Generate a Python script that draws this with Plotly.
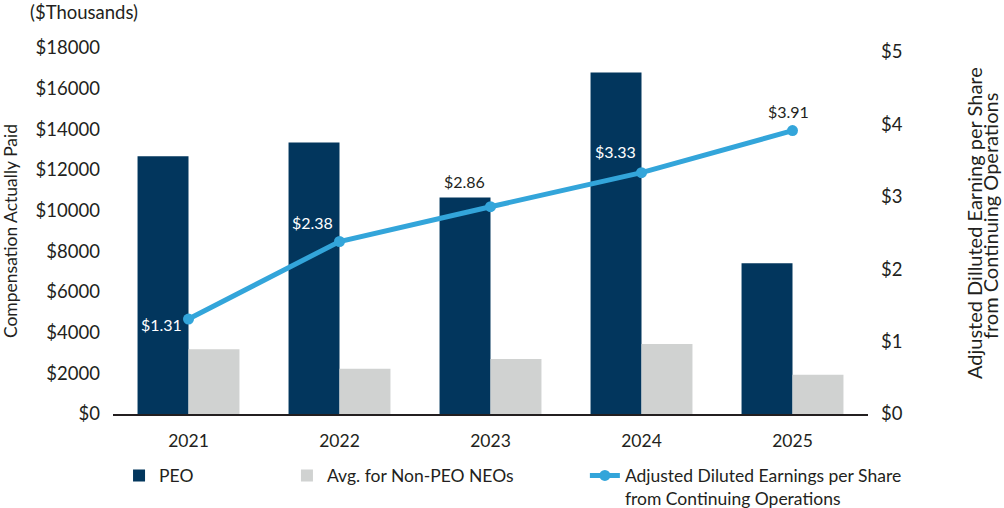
import plotly.graph_objects as go

years = ["2021", "2022", "2023", "2024", "2025"]
peo = [12680, 13350, 10650, 16800, 7410]
non_peo = [3190, 2220, 2710, 3440, 1930]
eps = [1.31, 2.38, 2.86, 3.33, 3.91]
eps_labels = ["$1.31", "$2.38", "$2.86", "$3.33", "$3.91"]
left_ticks = [0, 2000, 4000, 6000, 8000, 10000, 12000, 14000, 16000, 18000]
right_ticks = [0, 1, 2, 3, 4, 5]
right_title_lines = ["Adjusted Dilluted Earning per Share", "from Continuing Operations"]

NAVY = "#02365d"
GRAY = "#d0d2d1"
BLUE = "#33a5da"
TXT = "#231f20"
FONT = "Lato"

fig = go.Figure()
fig.add_trace(go.Bar(x=years, y=peo, name="PEO", marker_color=NAVY,
                     marker_line_width=0, legend="legend"))
fig.add_trace(go.Bar(x=years, y=non_peo, name="Avg. for Non-PEO NEOs",
                     marker_color=GRAY, marker_line_width=0, legend="legend2"))
fig.add_trace(go.Scatter(x=years, y=eps, yaxis="y2", mode="lines+markers",
                         name="Adjusted Diluted Earnings per Share<br>from Continuing Operations",
                         line=dict(color=BLUE, width=5),
                         marker=dict(color=BLUE, size=11), legend="legend3"))

# label offsets (px) and colours for the EPS labels
shifts = [(-27, -5), (-27, 19), (-26, 25), (-26, 21), (-4, 19)]
label_colors = ["white", "white", TXT, "white", TXT]
for i, (v, lab, (dx, dy), c) in enumerate(zip(eps, eps_labels, shifts, label_colors)):
    fig.add_annotation(x=i, y=v, xref="x", yref="y2", text=lab, showarrow=False,
                       xshift=dx, yshift=dy, font=dict(family=FONT, size=16, color=c))

fig.add_annotation(xref="paper", yref="paper", x=-0.1126, y=1.098,
                   xanchor="left", yanchor="middle", text="($Thousands)",
                   showarrow=False, font=dict(family=FONT, size=18.5, color=TXT))

# right axis title as two rotated lines
for txt, xp, yp in zip(right_title_lines, [1.1405, 1.1617], [0.522, 0.541]):
    fig.add_annotation(xref="paper", yref="paper", x=xp, y=yp, text=txt,
                       textangle=-90, showarrow=False, xanchor="center", yanchor="middle",
                       font=dict(family=FONT, size=20, color=TXT))

legend_common = dict(orientation="h", yanchor="top", y=-0.119, xanchor="left",
                     bgcolor="rgba(0,0,0,0)", font=dict(family=FONT, size=17.5, color=TXT))

fig.update_layout(
    width=1004, height=508,
    margin=dict(l=113, r=136, t=48, b=94, autoexpand=False),
    paper_bgcolor="white", plot_bgcolor="white",
    font=dict(family=FONT, size=17, color=TXT),
    barmode="group", bargap=0.325, bargroupgap=0,
    showlegend=True,
    legend=dict(**legend_common, x=0.008),
    legend2=dict(**legend_common, x=0.2304),
    legend3=dict(**legend_common, x=0.625, valign="top"),
    xaxis=dict(type="category", categoryorder="array", categoryarray=years,
               range=[-0.5, len(years) - 0.5], autorange=False,
               showline=True, linecolor="#231f20", linewidth=1.5,
               showgrid=False, ticks="", ticklabelstandoff=10,
               tickfont=dict(family=FONT, size=17.5, color=TXT)),
    yaxis=dict(range=[0, 18000], tickvals=left_ticks,
               ticktext=["$" + str(t) for t in left_ticks],
               showgrid=False, zeroline=False, showline=False,
               ticklabelstandoff=12,
               tickfont=dict(family=FONT, size=18.5, color=TXT),
               title=dict(text="Compensation Actually Paid", standoff=14,
                          font=dict(family=FONT, size=17.5, color=TXT))),
    yaxis2=dict(range=[0, 5.05], overlaying="y", side="right",
                tickvals=right_ticks, ticktext=["$" + str(t) for t in right_ticks],
                showgrid=False, zeroline=False, showline=False,
                ticklabelstandoff=12,
                tickfont=dict(family=FONT, size=18.5, color=TXT)),
)

fig.write_html("out.html", config={"displayModeBar": False},
               post_script="document.body.style.margin='0';")
